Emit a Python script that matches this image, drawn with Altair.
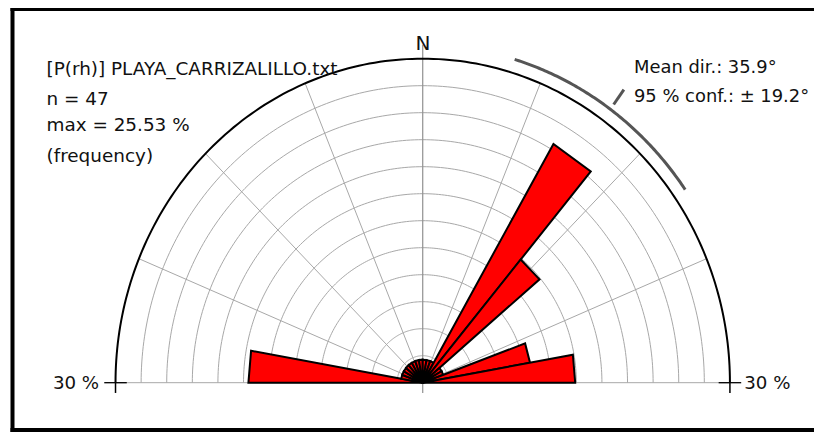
import altair as alt
import pandas as pd
import numpy as np

# ---------------- data (half rose, 10° bins, frequency in %) ----------------
bin_start = [-90, -80, -70, -60, -50, -40, -30, -20, -10, 0, 10, 20, 30, 40, 50, 60, 70, 80]
freq_pct = [17.02, 2.13, 2.13, 2.13, 2.13, 2.13, 2.13, 2.13, 2.13, 2.13, 2.13, 2.13,
            25.53, 14.89, 2.13, 2.13, 10.64, 14.89]
bin_width = 10

grid_radii = [2.5, 5, 7.5, 10, 12.5, 15, 17.5, 20, 22.5, 25, 27.5]
outer_radius = 30
spoke_angles = [-90, -67.5, -45, -22.5, 22.5, 45, 67.5, 90]
mean_dir = 35.9
conf95 = 19.2

title_lines = ["[P(rh)] PLAYA_CARRIZALILLO.txt", "n = 47", "max = 25.53 %", "(frequency)"]
title_y = [28.49, 25.71, 23.31, 20.44]
stat_lines = ["Mean dir.: 35.9°", "95 % conf.: ± 19.2°"]
stat_y = [28.65, 26.02]
scale_labels = ["30 %", "30 %"]

# ---------------- scales ----------------
W, H = 801.5, 423
xs = alt.Scale(domain=[-40.06, 38.21], nice=False, zero=False)
ys = alt.Scale(domain=[-4.565, 34.60], nice=False, zero=False)
X = lambda f: alt.X(f, type="quantitative", scale=xs, axis=None)
Y = lambda f: alt.Y(f, type="quantitative", scale=ys, axis=None)

deg = "PI/180"

# frame: left, top and bottom edges (right edge lies beyond the picture)
one = pd.DataFrame({"k": [0]})
frame_left = alt.Chart(one).mark_rule(color="black", strokeWidth=4).encode(
    x=alt.value(0), y=alt.value(-2), y2=alt.value(H))
frame_top = alt.Chart(one).mark_rule(color="black", strokeWidth=4).encode(
    x=alt.value(-2), x2=alt.value(W), y=alt.value(0))
frame_bottom = alt.Chart(one).mark_rule(color="black", strokeWidth=4).encode(
    x=alt.value(-2), x2=alt.value(W), y=alt.value(H - 2))

# grid circles
arc_angles = np.arange(-90, 90.5, 1.0)
circ = pd.DataFrame([(r, a) for r in grid_radii for a in arc_angles], columns=["r", "a"])
grid_circles = alt.Chart(circ).transform_calculate(
    x=f"datum.r*sin(datum.a*{deg})", y=f"datum.r*cos(datum.a*{deg})"
).mark_line(color="#a8a8a8", strokeWidth=1).encode(
    x=X("x"), y=Y("y"), detail="r:N", order="a:Q"
)

outer = pd.DataFrame({"r": outer_radius, "a": arc_angles})
outer_circle = alt.Chart(outer).transform_calculate(
    x=f"datum.r*sin(datum.a*{deg})", y=f"datum.r*cos(datum.a*{deg})"
).mark_line(color="black", strokeWidth=2).encode(x=X("x"), y=Y("y"), order="a:Q")

# spokes
sp = pd.DataFrame([(a, r) for a in spoke_angles for r in (0, outer_radius)], columns=["a", "r"])
spokes = alt.Chart(sp).transform_calculate(
    x=f"datum.r*sin(datum.a*{deg})", y=f"datum.r*cos(datum.a*{deg})"
).mark_line(color="#a8a8a8", strokeWidth=1).encode(x=X("x"), y=Y("y"), detail="a:N", order="r:Q")

north = alt.Chart(pd.DataFrame({"x": [0], "y": [-0.95], "y2": [31.3]})).mark_rule(
    color="#909090", strokeWidth=1.2
).encode(x=X("x"), y=Y("y"), y2="y2")

# scale ticks at +-30 %
tk = pd.DataFrame({"x": [-31.1, 28.9], "x2": [-28.9, 31.1], "y": [0, 0]})
hticks = alt.Chart(tk).mark_rule(color="black", strokeWidth=1.3).encode(x=X("x"), x2="x2", y=Y("y"))
vk = pd.DataFrame({"x": [-30, 30], "y": [-0.95, -0.95], "y2": [0, 0]})
vticks = alt.Chart(vk).mark_rule(color="black", strokeWidth=1.5).encode(x=X("x"), y=Y("y"), y2="y2")

# bars (triangular wedges): one row per wedge vertex, sorted along x by the area mark
bars_df = pd.DataFrame(
    [(s, p, k) for s, p in zip(bin_start, freq_pct) for k in (0, 1, 2)],
    columns=["start", "pct", "ks"],
)
bars = alt.Chart(bars_df).transform_calculate(
    s="datum.start >= 0 ? 1 : -1",
    p=f"datum.start >= 0 ? datum.start : -(datum.start + {bin_width})",
).transform_calculate(
    q=f"datum.p + {bin_width}"
).transform_filter(
    "datum.ks > 0 || datum.p > 0"
).transform_calculate(
    x=f"datum.ks == 0 ? 0 : (datum.ks == 1 ? datum.s*datum.pct*sin(datum.p*{deg}) : datum.s*datum.pct*sin(datum.q*{deg}))",
    y=f"datum.ks == 0 ? 0 : (datum.ks == 1 ? datum.pct*cos(datum.p*{deg}) : datum.pct*cos(datum.q*{deg}))",
    y2=f"datum.ks == 0 ? 0 : (datum.ks == 1 ? datum.pct*sin(datum.p*{deg})*cos(datum.q*{deg})/sin(datum.q*{deg}) : datum.pct*cos(datum.q*{deg}))",
).mark_area(color="#ff0000", stroke="black", strokeWidth=2, strokeJoin="miter").encode(
    x=X("x"), y=Y("y"), y2="y2", detail="start:N"
)

# confidence arc
conf_arc = alt.Chart(alt.sequence(0, 1.001, 0.01, as_="t")).transform_calculate(
    a=f"{mean_dir} - {conf95} + datum.t*2*{conf95}"
).transform_calculate(
    x=f"31.25*sin(datum.a*{deg})", y=f"31.25*cos(datum.a*{deg})"
).mark_line(color="#555555", strokeWidth=3).encode(x=X("x"), y=Y("y"), order="t:Q")

mt = pd.DataFrame({"r": [31.8, 33.5], "a": [mean_dir, mean_dir]})
mean_tick = alt.Chart(mt).transform_calculate(
    x=f"datum.r*sin(datum.a*{deg})", y=f"datum.r*cos(datum.a*{deg})"
).mark_line(color="#555555", strokeWidth=3).encode(x=X("x"), y=Y("y"), order="r:Q")

# texts
font = "DejaVu Sans"
t1 = alt.Chart(pd.DataFrame({"x": -36.74, "y": title_y, "t": title_lines})).mark_text(
    align="left", baseline="alphabetic", fontSize=18.4, font=font, color="#111"
).encode(x=X("x"), y=Y("y"), text="t:N")
t2 = alt.Chart(pd.DataFrame({"x": 20.63, "y": stat_y, "t": stat_lines})).mark_text(
    align="left", baseline="alphabetic", fontSize=17.9, font=font, color="#111"
).encode(x=X("x"), y=Y("y"), text="t:N")
t3 = alt.Chart(pd.DataFrame({"x": [-31.6], "y": [-0.62], "t": [scale_labels[0]]})).mark_text(
    align="right", baseline="alphabetic", fontSize=18.2, font=font, color="#111"
).encode(x=X("x"), y=Y("y"), text="t:N")
t4 = alt.Chart(pd.DataFrame({"x": [31.4], "y": [-0.62], "t": [scale_labels[1]]})).mark_text(
    align="left", baseline="alphabetic", fontSize=18.2, font=font, color="#111"
).encode(x=X("x"), y=Y("y"), text="t:N")
tn = alt.Chart(pd.DataFrame({"x": [0.03], "y": [30.8], "t": ["N"]})).mark_text(
    align="center", baseline="alphabetic", fontSize=20, font=font, color="#111"
).encode(x=X("x"), y=Y("y"), text="t:N")

chart = alt.layer(
    frame_left, frame_top, frame_bottom, grid_circles, spokes, north, outer_circle,
    hticks, vticks, bars, conf_arc, mean_tick, t1, t2, t3, t4, tn
).properties(
    width=W, height=H,
    autosize=alt.AutoSizeParams(type="none"),
    padding={"left": 4.5, "top": 1, "right": 0, "bottom": 0},
).configure_view(strokeWidth=0)

chart.save("out.html", embed_options={"renderer": "svg", "actions": False})
